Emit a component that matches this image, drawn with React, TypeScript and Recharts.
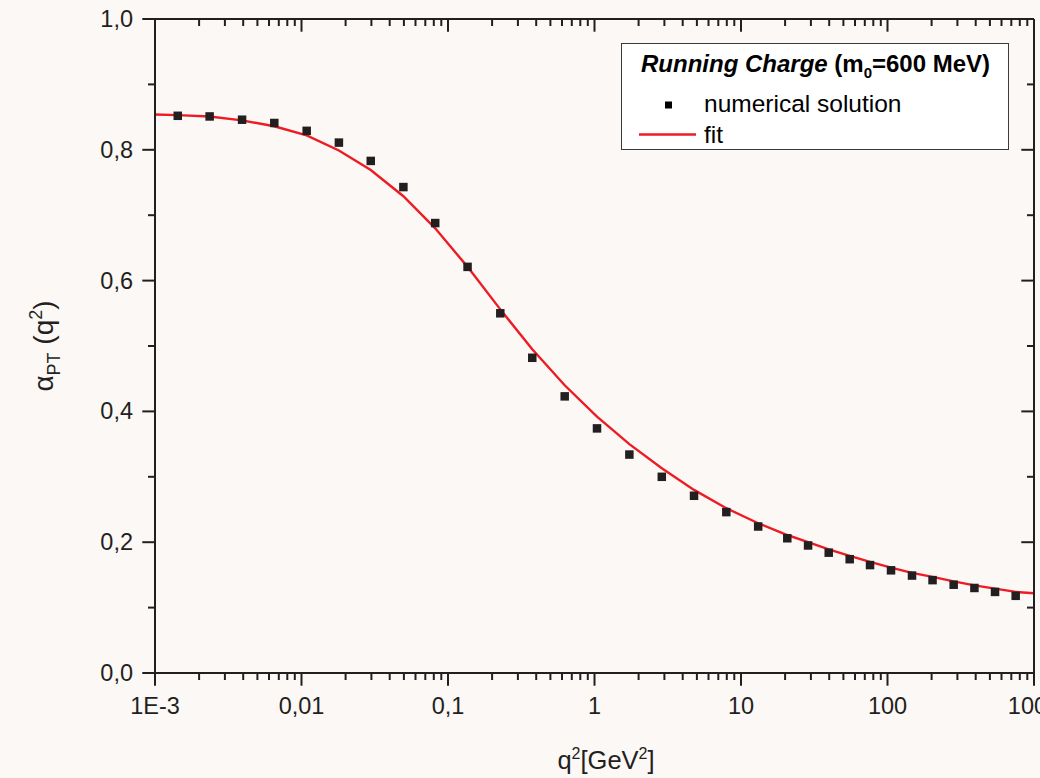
import React from 'react';
import { ComposedChart, Scatter, Line, XAxis, YAxis, Legend } from 'recharts';

// ---------- data ----------
const solutionQ2 = [
  0.00143, 0.00236, 0.00393, 0.00652, 0.01085, 0.018, 0.0297, 0.0496, 0.0818, 0.136,
  0.2275, 0.376, 0.626, 1.04, 1.73, 2.88, 4.78, 7.94, 13.1, 20.7, 28.7, 39.7, 55.2, 76.0,
  105.7, 147, 203, 283, 392, 542, 750,
];
const solutionAlpha = [
  0.852, 0.851, 0.846, 0.841, 0.829, 0.811, 0.783, 0.743, 0.688, 0.621,
  0.55, 0.482, 0.423, 0.374, 0.334, 0.3, 0.271, 0.246, 0.224, 0.206, 0.195, 0.184, 0.174, 0.165,
  0.157, 0.149, 0.142, 0.135, 0.13, 0.124, 0.118,
];
const fitQ2 = [
  0.001, 0.00143, 0.00236, 0.00393, 0.00652, 0.01085, 0.018, 0.0297, 0.0496, 0.0818, 0.136,
  0.2275, 0.376, 0.626, 1.04, 1.73, 2.88, 4.78, 7.94, 13.1, 20.7, 28.7, 39.7, 55.2, 76.0,
  105.7, 147, 203, 283, 392, 542, 750, 1000,
];
const fitAlpha = [
  0.854, 0.853, 0.851, 0.845, 0.836, 0.822, 0.799, 0.769, 0.729, 0.68, 0.621,
  0.556, 0.495, 0.44, 0.392, 0.35, 0.313, 0.28, 0.252, 0.229, 0.211, 0.2, 0.189, 0.179, 0.17,
  0.161, 0.153, 0.147, 0.14, 0.134, 0.129, 0.124, 0.122,
];

const xMajorTicks = [0.001, 0.01, 0.1, 1, 10, 100, 1000];
const xMajorLabels = ['1E-3', '0,01', '0,1', '1', '10', '100', '1000'];
const xMinorMultipliers = [2, 3, 4, 5, 6, 7, 8, 9];
const yTicks = [0, 0.1, 0.2, 0.3, 0.4, 0.5, 0.6, 0.7, 0.8, 0.9, 1.0];
const yMajorTicks = [0, 0.2, 0.4, 0.6, 0.8, 1.0];
const yMajorLabels = ['0,0', '0,2', '0,4', '0,6', '0,8', '1,0'];

const solutionData = solutionQ2.map((q2, i) => ({ q2, alpha: solutionAlpha[i] }));
const fitData = fitQ2.map((q2, i) => ({ q2, alpha: fitAlpha[i] }));

const xAllTicks = [
  ...xMajorTicks,
  ...xMajorTicks.slice(0, -1).flatMap((d) => xMinorMultipliers.map((m) => d * m)),
].sort((a, b) => a - b);

// ---------- style ----------
const BG = '#fbf8f5';
const INK = '#231f20';
const RED = '#ed1c24';
const FONT = '"Liberation Sans", Arial, Helvetica, sans-serif';
const MAJOR = 12.7;
const MINOR = 7;

const xMajorIndex = (v: number) =>
  xMajorTicks.findIndex((m) => Math.abs(Math.log10(v) - Math.log10(m)) < 1e-6);
const yMajorIndex = (v: number) => yMajorTicks.findIndex((m) => Math.abs(v - m) < 1e-6);

const BottomTick = (props: any) => {
  const { x, y, payload } = props;
  const idx = xMajorIndex(payload.value);
  const major = idx >= 0;
  return (
    <g>
      <line x1={x} x2={x} y1={y} y2={y + (major ? MAJOR : MINOR)} stroke={INK} strokeWidth={2} />
      {major && (
        <text x={x} y={y + 41} textAnchor="middle" fontSize={23.5} fill={INK} fontFamily={FONT}>
          {xMajorLabels[idx]}
        </text>
      )}
    </g>
  );
};

const TopTick = (props: any) => {
  const { x, y, payload } = props;
  const major = xMajorIndex(payload.value) >= 0;
  return <line x1={x} x2={x} y1={y} y2={y + (major ? MAJOR : MINOR)} stroke={INK} strokeWidth={2} />;
};

const LeftTick = (props: any) => {
  const { x, y, payload } = props;
  const idx = yMajorIndex(payload.value);
  const major = idx >= 0;
  return (
    <g>
      <line x1={x - (major ? MAJOR : MINOR)} x2={x} y1={y} y2={y} stroke={INK} strokeWidth={2} />
      {major && (
        <text x={x - 22} y={y + 8} textAnchor="end" fontSize={23.5} fill={INK} fontFamily={FONT}>
          {yMajorLabels[idx]}
        </text>
      )}
    </g>
  );
};

const RightTick = (props: any) => {
  const { x, y, payload } = props;
  const major = yMajorIndex(payload.value) >= 0;
  return <line x1={x - (major ? MAJOR : MINOR)} x2={x} y1={y} y2={y} stroke={INK} strokeWidth={2} />;
};

const XTitle = () => (
  <text x={606} y={769} textAnchor="middle" fontSize={25.5} fill={INK} fontFamily={FONT}>
    q<tspan dy={-10} fontSize={16}>2</tspan>
    <tspan dy={10}>[GeV</tspan>
    <tspan dy={-10} fontSize={16}>2</tspan>
    <tspan dy={10}>]</tspan>
  </text>
);

const YTitle = () => (
  <text
    x={0}
    y={0}
    transform="translate(53, 346) rotate(-90)"
    textAnchor="middle"
    fontSize={28}
    fill={INK}
    fontFamily={FONT}
  >
    α<tspan dy={7} fontSize={18}>PT</tspan>
    <tspan dy={-7}> (q</tspan>
    <tspan dy={-11} fontSize={18}>2</tspan>
    <tspan dy={11}>)</tspan>
  </text>
);

const LegendBox = () => (
  <svg width={388} height={107} style={{ display: 'block' }}>
    <rect x={0.5} y={0.5} width={387} height={106} fill="#ffffff" stroke="#3a3a3a" strokeWidth={1} />
    <text x={20} y={29} fontSize={24} fill="#000" fontFamily={FONT} fontWeight="bold">
      <tspan fontStyle="italic">Running Charge</tspan>
      <tspan> (m</tspan>
      <tspan dy={6} fontSize={15}>0</tspan>
      <tspan dy={-6}>=600 MeV)</tspan>
    </text>
    <rect x={44} y={58.5} width={7} height={7} fill="#000" />
    <text x={83} y={68.5} fontSize={24.5} fill="#000" fontFamily={FONT}>
      numerical solution
    </text>
    <line x1={18} x2={75} y1={91.5} y2={91.5} stroke={RED} strokeWidth={2.4} />
    <text x={83} y={100} fontSize={24.5} fill="#000" fontFamily={FONT}>
      fit
    </text>
  </svg>
);

const SquareShape = (props: any) => {
  const { cx, cy } = props;
  return <rect x={cx - 4.25} y={cy - 4.25} width={8.5} height={8.5} fill={INK} />;
};

export default function App() {
  return (
    <div
      style={{
        position: 'absolute',
        left: 0,
        top: 0,
        width: 1040,
        height: 778,
        background: BG,
        overflow: 'hidden',
      }}
    >
      <ComposedChart width={1040} height={778} margin={{ top: 0, right: 0, bottom: 75, left: 95 }}>
        <XAxis
          dataKey="q2"
          type="number"
          scale="log"
          domain={[0.001, 1000]}
          allowDataOverflow
          ticks={xAllTicks}
          interval={0}
          tickSize={0}
          tickMargin={0}
          tickLine={false}
          tick={<BottomTick />}
          axisLine={{ stroke: INK, strokeWidth: 2 }}
          height={30}
          label={<XTitle />}
        />
        <XAxis
          xAxisId="top"
          orientation="top"
          dataKey="q2"
          type="number"
          scale="log"
          domain={[0.001, 1000]}
          allowDataOverflow
          ticks={xAllTicks}
          interval={0}
          tickSize={0}
          tickMargin={0}
          tickLine={false}
          tick={<TopTick />}
          axisLine={{ stroke: INK, strokeWidth: 2 }}
          height={19}
        />
        <YAxis
          type="number"
          domain={[0, 1]}
          allowDataOverflow
          ticks={yTicks}
          interval={0}
          tickSize={0}
          tickMargin={0}
          tickLine={false}
          tick={<LeftTick />}
          axisLine={{ stroke: INK, strokeWidth: 2 }}
          width={60}
          label={<YTitle />}
        />
        <YAxis
          yAxisId="right"
          orientation="right"
          type="number"
          domain={[0, 1]}
          allowDataOverflow
          ticks={yTicks}
          interval={0}
          tickSize={0}
          tickMargin={0}
          tickLine={false}
          tick={<RightTick />}
          axisLine={{ stroke: INK, strokeWidth: 2 }}
          width={6}
        />
        <Scatter
          name="numerical solution"
          data={solutionData}
          dataKey="alpha"
          fill={INK}
          shape={<SquareShape />}
          isAnimationActive={false}
        />
        <Line
          name="fit"
          data={fitData}
          dataKey="alpha"
          type="linear"
          stroke={RED}
          strokeWidth={2.4}
          dot={false}
          activeDot={false}
          isAnimationActive={false}
        />
        <Legend
          layout="vertical"
          align="center"
          verticalAlign="middle"
          wrapperStyle={{ left: 621, top: 43, width: 388, height: 107 }}
          content={() => <LegendBox />}
        />
      </ComposedChart>
    </div>
  );
}
